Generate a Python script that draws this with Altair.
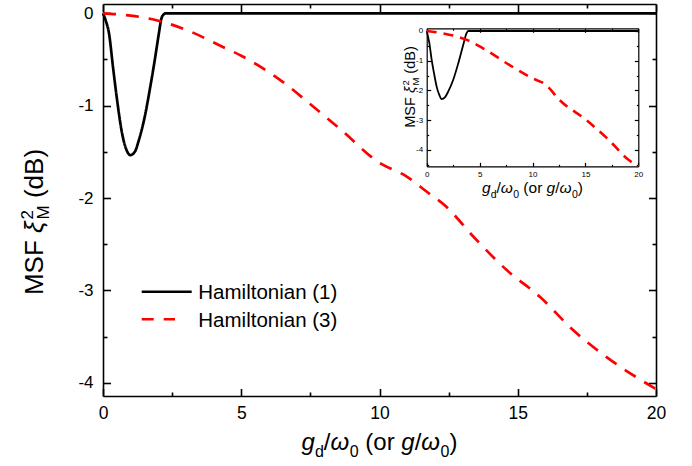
import altair as alt
import pandas as pd

# ---------------- data ----------------
series_names = ["Hamiltonian (1)", "Hamiltonian (3)"]

h1_g = [0, 0.1, 0.217, 0.36, 0.51, 0.69, 0.85, 0.99, 1.15, 1.30, 1.51, 1.69, 1.87, 2.02, 2.11, 2.2, 2.27, 20]
h1_y = [0, -0.08, -0.217, -0.578, -0.94, -1.30, -1.48, -1.535, -1.50, -1.37, -1.12, -0.83, -0.51, -0.22, -0.06, -0.01, 0, 0]

h3_g = [0, 1, 2, 3.1, 4.3, 5, 6.4, 7.6, 8.6, 10, 11, 11.7, 12.4, 13.4, 14.6, 15.8, 17, 18.2, 20]
h3_y = [0, -0.025, -0.08, -0.19, -0.36, -0.46, -0.72, -1.01, -1.26, -1.62, -1.77, -1.93, -2.09, -2.42, -2.78, -3.07, -3.43, -3.72, -4.07]

in1_g = [0, 0.25, 0.47, 0.69, 0.94, 1.19, 1.41, 1.72, 2.03, 2.5, 2.98, 3.45, 3.76, 3.92, 20]
in1_y = [0, -0.41, -0.97, -1.42, -1.87, -2.15, -2.29, -2.23, -2.04, -1.65, -1.09, -0.47, -0.08, 0, 0]

in3_g = [0, 1.5, 3.8, 5.6, 7.8, 10.0, 11.3, 12.5, 15.1, 17.2, 19.1, 20]
in3_y = [0, -0.08, -0.3, -0.64, -1.14, -1.59, -1.82, -2.3, -3.0, -3.66, -4.34, -4.55]

major_x = [0, 5, 10, 15, 20]
minor_x = [2.5, 7.5, 12.5, 17.5]
major_y = [0, -1, -2, -3, -4]
minor_y = [-0.5, -1.5, -2.5, -3.5]
inset_minor_y = [-0.5, -1.5, -2.5, -3.5, -4.5]

# ---------------- layout ----------------
W, H = 553, 392
PAD_L, PAD_T = 103, 4
FONT = "Liberation Sans"
COLORS = ["#000000", "#ff0000"]
DASHES = [[1, 0], [13, 10]]

main_x_dom = [0, 20]
main_y_dom = [-4.144, 0.1007]
in_x_dom = [0, 20]
in_y_dom = [-4.55, 0.09]
in_x_rng = [323.7, 535.3]
in_y_rng = [162.3, 24.3]

main_df = pd.concat([
    pd.DataFrame({"g": h1_g, "msf": h1_y, "series": series_names[0]}),
    pd.DataFrame({"g": h3_g, "msf": h3_y, "series": series_names[1]}),
])
in1_df = pd.DataFrame({"g": in1_g, "msf": in1_y})
in3_df = pd.DataFrame({"g": in3_g, "msf": in3_y})
legend_df = pd.DataFrame({"series": series_names})


def mxs():
    return alt.Scale(domain=main_x_dom, nice=False, zero=False)


def mys():
    return alt.Scale(domain=main_y_dom, nice=False, zero=False)


def ixs():
    return alt.Scale(domain=in_x_dom, range=in_x_rng, nice=False, zero=False)


def iys():
    return alt.Scale(domain=in_y_dom, range=in_y_rng, nice=False, zero=False)


def tick_axis(orient, offset, values, size, domain=False, width=1.6):
    return alt.Axis(orient=orient, offset=offset, values=values, ticks=True, tickSize=size,
                    tickColor="black", tickWidth=width, labels=False, domain=domain,
                    domainColor="black", domainWidth=width, grid=False, title=None)


def axis_layer(df, xs, ys, xa, ya):
    return alt.Chart(df).mark_line(opacity=0).encode(
        x=alt.X("g:Q", scale=xs, axis=xa),
        y=alt.Y("msf:Q", scale=ys, axis=ya),
    )


layers = []

# main label axes (bottom & left, with frame lines)
layers.append(axis_layer(
    main_df, mxs(), mys(),
    alt.Axis(orient="bottom", values=major_x, ticks=False, tickSize=0, domain=True,
             domainColor="black", domainWidth=1.6, labelFont=FONT, labelFontSize=17.5,
             labelColor="black", labelPadding=8, labelFlush=False, grid=False, title=None,
             labelExpr="'' + datum.value"),
    alt.Axis(orient="left", values=major_y, ticks=False, tickSize=0, domain=True,
             domainColor="black", domainWidth=1.6, labelFont=FONT, labelFontSize=17,
             labelColor="black", labelPadding=10, grid=False, title=None,
             labelExpr="'' + datum.value"),
))
# main inward ticks: bottom edge (up) + left edge (right)
for vx, vy, s in [(major_x, major_y, 7.5), (minor_x, minor_y, 4)]:
    layers.append(axis_layer(main_df, mxs(), mys(),
                             tick_axis("top", -H, vx, s),
                             tick_axis("right", -W, vy, s)))
# main inward ticks: top edge (down) + right edge (left), with frame lines
for vx, vy, s, d in [(major_x, major_y, 7.5, True), (minor_x, minor_y, 4, False)]:
    layers.append(axis_layer(main_df, mxs(), mys(),
                             tick_axis("bottom", -H, vx, s, d),
                             tick_axis("left", -W, vy, s, d)))

# main data lines
layers.append(alt.Chart(main_df).mark_line(interpolate="monotone", strokeWidth=2.7).encode(
    x=alt.X("g:Q", scale=mxs(), axis=None),
    y=alt.Y("msf:Q", scale=mys(), axis=None),
    color=alt.Color("series:N", scale=alt.Scale(domain=series_names, range=COLORS), legend=None),
    strokeDash=alt.StrokeDash("series:N", scale=alt.Scale(domain=series_names, range=DASHES), legend=None),
))

# legend (symbols + labels), rows placed by a point scale
leg_y = alt.Y("series:N", scale=alt.Scale(type="point", domain=series_names, range=[287.7, 315.3], padding=0),
              axis=None)
for i, (name, x_end, dash) in enumerate([(series_names[0], 88.7, [1, 0]), (series_names[1], 72, [12, 10])]):
    layers.append(alt.Chart(legend_df).transform_filter(alt.datum.series == name).mark_rule(
        strokeWidth=2.6, strokeDash=dash, color=COLORS[i]).encode(
        x=alt.value(38.7), x2=alt.value(x_end), y=leg_y))
layers.append(alt.Chart(legend_df).mark_text(
    align="left", baseline="alphabetic", dy=7.3, font=FONT, fontSize=20.5, color="black").encode(
    x=alt.value(95.3), y=leg_y, text="series:N"))

# inset label axes
layers.append(axis_layer(
    in1_df, ixs(), iys(),
    alt.Axis(orient="bottom", offset=in_y_rng[0] - H, values=major_x, ticks=False, tickSize=0,
             domain=True, domainColor="black", domainWidth=1.2, labelFont=FONT, labelFontSize=8,
             labelColor="black", labelPadding=4, labelFlush=False, grid=False, title=None,
             labelExpr="'' + datum.value"),
    alt.Axis(orient="left", offset=-in_x_rng[0], values=major_y, ticks=False, tickSize=0,
             domain=True, domainColor="black", domainWidth=1.2, labelFont=FONT, labelFontSize=8,
             labelColor="black", labelPadding=4, grid=False, title=None,
             labelExpr="'' + datum.value"),
))
for vx, vy, s in [(major_x, major_y, 4), (minor_x, inset_minor_y, 2)]:
    layers.append(axis_layer(in1_df, ixs(), iys(),
                             tick_axis("top", -in_y_rng[0], vx, s, False, 1.2),
                             tick_axis("right", in_x_rng[0] - W, vy, s, False, 1.2)))
for vx, vy, s, d in [(major_x, major_y, 4, True), (minor_x, inset_minor_y, 2, False)]:
    layers.append(axis_layer(in1_df, ixs(), iys(),
                             tick_axis("bottom", in_y_rng[1] - H, vx, s, d, 1.2),
                             tick_axis("left", -in_x_rng[1], vy, s, d, 1.2)))

# inset data lines
layers.append(alt.Chart(in1_df).mark_line(interpolate="monotone", strokeWidth=1.8, color="black").encode(
    x=alt.X("g:Q", scale=ixs(), axis=None), y=alt.Y("msf:Q", scale=iys(), axis=None)))
layers.append(alt.Chart(in3_df).mark_line(interpolate="monotone", strokeWidth=2.6, color="#ff0000",
                                          strokeDash=[10, 7]).encode(
    x=alt.X("g:Q", scale=ixs(), axis=None), y=alt.Y("msf:Q", scale=iys(), axis=None)))

# ---------------- rich-text titles ----------------
WID = {"g": 556, "d": 556, "/": 278, "ω": 800, "0": 556, "(": 333, "o": 556,
       "r": 333, ")": 333, "M": 833, "S": 667, "F": 611, "ξ": 520, "2": 556, "B": 667}
SPACE = 0.278


def tw(s, size):
    return sum(WID.get(c, 556) for c in s) / 1000 * size


one = pd.DataFrame({"k": [0]})


def text_piece(s, x, y, size, style, angle=0):
    kw = dict(align="left", baseline="alphabetic", font=FONT, fontSize=size,
              fontStyle=style, color="black")
    if angle:
        kw["angle"] = angle
    return alt.Chart(one).mark_text(**kw).encode(
        x=alt.value(x), y=alt.value(y), text=alt.value(s))


def x_title(cx, by, big, small, shift):
    sp = SPACE * big
    # (text, size, style, baseline shift, gap before)
    pieces = [("g", big, "italic", 0, 0), ("d", small, "normal", shift, 0), ("/", big, "normal", 0, 0),
              ("ω", big, "italic", 0, 0), ("0", small, "normal", shift, 0), ("(or", big, "normal", 0, sp),
              ("g", big, "italic", 0, sp), ("/", big, "normal", 0, 0), ("ω", big, "italic", 0, 0),
              ("0", small, "normal", shift, 0), (")", big, "normal", 0, 0)]
    total = sum(tw(p[0], p[1]) + p[4] for p in pieces)
    x = cx - total / 2
    out = []
    for s, sz, st, sh, gap in pieces:
        x += gap
        out.append(text_piece(s, x, by + sh, sz, st))
        x += tw(s, sz)
    return out


def y_title(bx, cy, big, small, sup, sub):
    # rotated 270: text runs upward; +x is "down" in glyph frame
    sp = SPACE * big
    total = tw("MSF", big) + sp + tw("ξ", big) + tw("M", small) + sp + tw("(dB)", big)
    y = cy + total / 2
    out = [text_piece("MSF", bx, y, big, "normal", 270)]
    y -= tw("MSF", big) + sp
    out.append(text_piece("ξ", bx, y, big, "italic", 270))
    y -= tw("ξ", big)
    out.append(text_piece("2", bx - sup, y, small, "normal", 270))
    out.append(text_piece("M", bx + sub, y, small, "normal", 270))
    y -= tw("M", small) + sp
    out.append(text_piece("(dB)", bx, y, big, "normal", 270))
    return out


layers += x_title(W / 2, 450 - PAD_T, 24, 16, 7)
layers += y_title(43 - PAD_L, 222 - PAD_T, 26, 17, 10, 6)
layers += x_title((in_x_rng[0] + in_x_rng[1]) / 2, 193 - PAD_T, 15.5, 10.5, 4.5)
layers += y_title(415 - PAD_L, 87 - PAD_T, 14.5, 9.5, 6, 3.5)

chart = alt.layer(*layers).resolve_scale(
    x="independent", y="independent", color="independent", strokeDash="independent"
).resolve_axis(x="independent", y="independent").properties(
    width=W, height=H,
    autosize=alt.AutoSizeParams(type="none"),
    padding={"left": PAD_L, "top": PAD_T, "right": 692 - PAD_L - W, "bottom": 466 - PAD_T - H},
    background="white",
).configure_view(stroke=None)

chart.save("out.html", embed_options={"renderer": "svg", "actions": False})
